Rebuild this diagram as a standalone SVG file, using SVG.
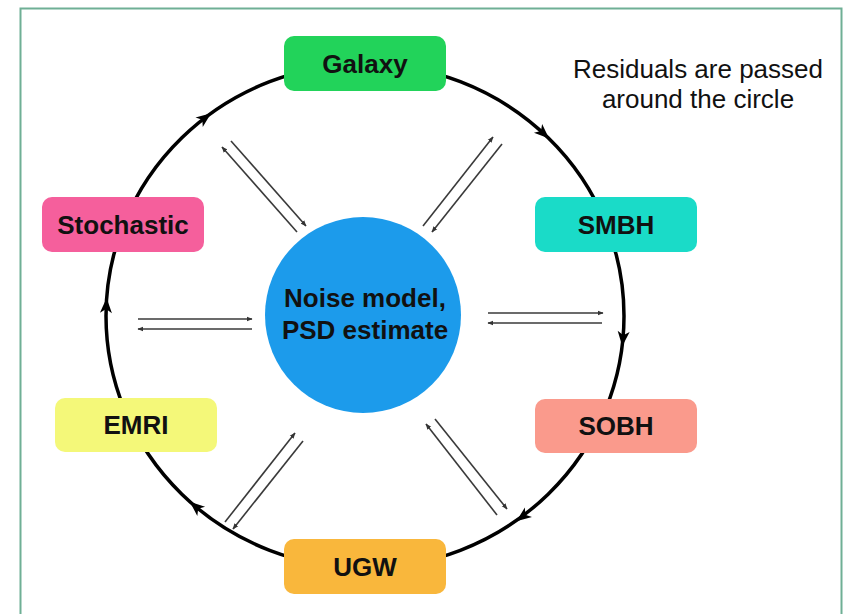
<svg xmlns="http://www.w3.org/2000/svg" width="846" height="614" viewBox="0 0 846 614">
<defs>
<marker id="sa" viewBox="0 0 10 10" refX="9" refY="5" markerWidth="6" markerHeight="6" markerUnits="userSpaceOnUse" orient="auto">
<path d="M0,1 L10,5 L0,9 Z" fill="#333"/>
</marker>
<path id="bigHead" d="M7,0 L-8,-6 L-4,0 L-8,6 Z"/>
</defs>
<style>
.frame{fill:#fff;stroke:#6FAF95;stroke-width:2}
.ring{fill:none;stroke:#000;stroke-width:3.5}
.head{fill:#000}
.pair{stroke:#3a3a3a;stroke-width:1.6;fill:none;marker-end:url(#sa)}
.box{stroke:none}
.lbl{font-family:"Liberation Sans",Arial,sans-serif;font-weight:bold;font-size:26px;fill:#111;text-anchor:middle}
.note{font-family:"Liberation Sans",Arial,sans-serif;font-size:26px;fill:#111;text-anchor:middle}
</style>
<rect x="0" y="0" width="846" height="614" fill="#fff"/>
<rect class="frame" x="20.5" y="8.5" width="821" height="620"/>

<g id="connectors">
<ellipse class="ring" cx="365" cy="316" rx="259" ry="252"/>
<use href="#bigHead" class="head" transform="translate(205.5,117.4) rotate(-37.2)"/>
<use href="#bigHead" class="head" transform="translate(543.9,133.8) rotate(42.9)"/>
<use href="#bigHead" class="head" transform="translate(622.9,339.3) rotate(95.4)"/>
<use href="#bigHead" class="head" transform="translate(522,517) rotate(143.7)"/>
<use href="#bigHead" class="head" transform="translate(195.1,506.2) rotate(220.2)"/>
<use href="#bigHead" class="head" transform="translate(106.3,305) rotate(-87.4)"/>

<line class="pair" x1="297" y1="232" x2="222" y2="147"/>
<line class="pair" x1="231" y1="141" x2="306" y2="226"/>
<line class="pair" x1="423" y1="226" x2="493" y2="137"/>
<line class="pair" x1="502" y1="144" x2="432" y2="232"/>
<line class="pair" x1="138" y1="319" x2="252" y2="319"/>
<line class="pair" x1="252" y1="329" x2="138" y2="329"/>
<line class="pair" x1="488" y1="313" x2="603" y2="313"/>
<line class="pair" x1="602" y1="323" x2="488" y2="323"/>
<line class="pair" x1="225" y1="522" x2="295" y2="433"/>
<line class="pair" x1="303" y1="441" x2="233" y2="529"/>
<line class="pair" x1="497" y1="515" x2="426" y2="424"/>
<line class="pair" x1="435" y1="419" x2="507" y2="509"/>
</g>

<g id="galaxy">
<rect class="box" x="284" y="36" width="162" height="55" rx="10" fill="#22D35A"/>
<text class="lbl" x="365" y="73">Galaxy</text>
</g>
<g id="smbh">
<rect class="box" x="535" y="197" width="162" height="55" rx="10" fill="#1ADBC8"/>
<text class="lbl" x="616" y="234">SMBH</text>
</g>
<g id="sobh">
<rect class="box" x="535" y="399" width="162" height="54" rx="10" fill="#FA9A8C"/>
<text class="lbl" x="616" y="435">SOBH</text>
</g>
<g id="ugw">
<rect class="box" x="284" y="539" width="162" height="55" rx="10" fill="#F9B73C"/>
<text class="lbl" x="365" y="576">UGW</text>
</g>
<g id="emri">
<rect class="box" x="55" y="398" width="162" height="54" rx="10" fill="#F4F879"/>
<text class="lbl" x="136" y="434">EMRI</text>
</g>
<g id="stochastic">
<rect class="box" x="42" y="197" width="162" height="55" rx="10" fill="#F55F9C"/>
<text class="lbl" x="123" y="234">Stochastic</text>
</g>
<g id="noise">
<circle cx="363" cy="315" r="98" fill="#1C9BEB"/>
<text class="lbl" x="365" y="307">Noise model,</text>
<text class="lbl" x="365" y="339">PSD estimate</text>
</g>
<g id="note">
<text class="note" x="698" y="78">Residuals are passed</text>
<text class="note" x="698" y="108">around the circle</text>
</g>
</svg>
